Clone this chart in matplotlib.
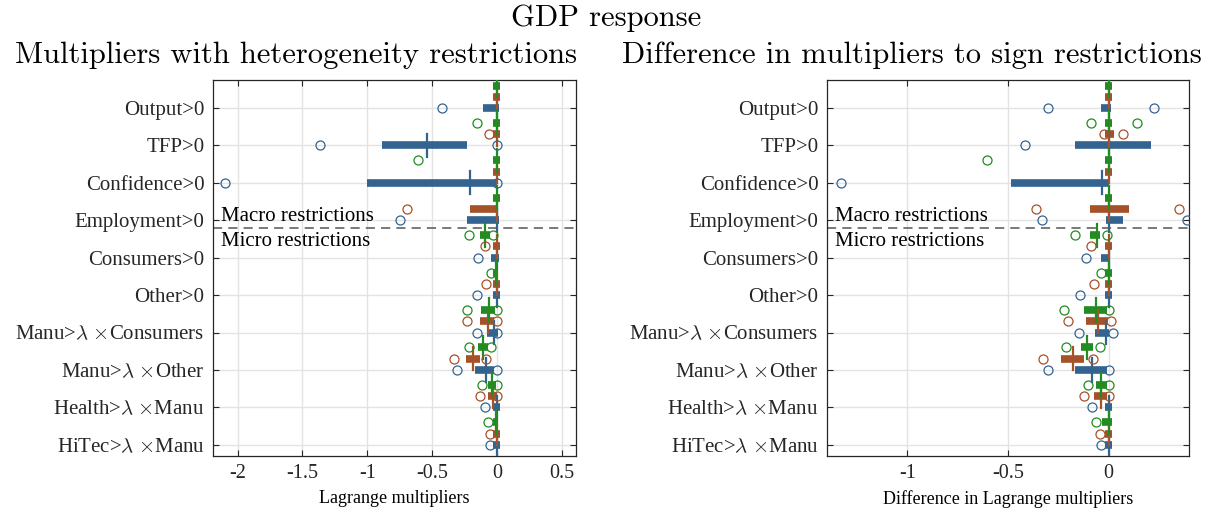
import matplotlib
matplotlib.use('Agg')
import matplotlib.pyplot as plt

plt.rcParams['mathtext.fontset'] = 'cm'

categories = ['Output>0', 'TFP>0', 'Confidence>0', 'Employment>0',
              'Consumers>0', 'Other>0',
              r'Manu>$\lambda$ $\times$Consumers', r'Manu>$\lambda$ $\times$Other',
              r'Health>$\lambda$ $\times$Manu', r'HiTec>$\lambda$ $\times$Manu']

# left panel: Lagrange multipliers (box = q1..q3, median, outliers)
L_green_q1 = [-0.028, -0.028, -0.028, -0.028, -0.131, -0.028, -0.126, -0.144, -0.067, -0.033]
L_green_med = [0, 0, 0, 0, -0.09, -0.005, -0.06, -0.11, -0.04, -0.01]
L_green_q3 = [0.028, 0.028, 0.028, 0.028, -0.054, 0.012, -0.015, -0.072, -0.008, 0.012]
L_green_out = [[], [-0.157], [-0.608], [], [-0.214, -0.029], [-0.046],
               [-0.23, 0], [-0.214, -0.046], [-0.116, 0], [-0.072]]

L_orange_q1 = [-0.028, -0.028, -0.028, -0.209, -0.028, -0.028, -0.131, -0.24, -0.067, -0.028]
L_orange_med = [0, 0, 0, 0, 0, 0, -0.067, -0.183, -0.033, 0]
L_orange_q3 = [0.028, 0.028, 0.028, 0.0, 0.028, 0.028, -0.023, -0.131, 0.0, 0.028]
L_orange_out = [[], [-0.06], [], [-0.693], [-0.093], [-0.08],
                [-0.23, 0], [-0.33, -0.085], [-0.131, 0], [-0.054]]

L_blue_q1 = [-0.106, -0.883, -1.002, -0.227, -0.046, -0.028, -0.075, -0.17, -0.028, -0.028]
L_blue_med = [0, -0.539, -0.204, 0, 0, 0, -0.02, -0.085, 0, 0]
L_blue_q3 = [0.015, -0.234, 0.0, 0.015, 0.015, 0.028, 0.01, -0.023, 0.028, 0.028]
L_blue_out = [[-0.42], [-1.368, 0], [-2.094, 0], [-0.744], [-0.144], [-0.152],
              [-0.157, 0], [-0.307, 0], [-0.09], [-0.054]]

# right panel: difference to sign restrictions
R_green_q1 = [-0.018, -0.018, -0.018, -0.018, -0.093, -0.018, -0.123, -0.139, -0.06, -0.03]
R_green_med = [0, 0, 0, 0, -0.056, 0, -0.06, -0.106, -0.035, 0]
R_green_q3 = [0.018, 0.018, 0.018, 0.018, -0.04, 0.018, -0.007, -0.076, -0.01, 0.015]
R_green_out = [[], [-0.085, 0.143], [-0.604], [], [-0.168, -0.01], [-0.035],
               [-0.222, 0], [-0.209, -0.043], [-0.103, 0], [-0.061]]

R_orange_q1 = [-0.018, -0.018, -0.018, -0.093, -0.018, -0.018, -0.114, -0.234, -0.07, -0.018]
R_orange_med = [0, 0, 0, 0, 0, 0, -0.053, -0.176, -0.035, 0]
R_orange_q3 = [0.018, 0.025, 0.018, 0.1, 0.018, 0.018, -0.003, -0.123, -0.007, 0.018]
R_orange_out = [[], [-0.022, 0.07], [], [-0.36, 0.348], [-0.086], [-0.073],
                [-0.2, 0.013], [-0.325, -0.076], [-0.124, 0], [-0.043]]

R_blue_q1 = [-0.035, -0.167, -0.483, -0.015, -0.035, -0.018, -0.065, -0.168, -0.018, -0.018]
R_blue_med = [0, 0, -0.03, 0, 0, 0, -0.012, -0.081, 0, 0]
R_blue_q3 = [0.012, 0.209, 0.0, 0.07, 0.005, 0.018, 0.0, -0.01, 0.018, 0.018]
R_blue_out = [[-0.299, 0.225], [-0.416], [-1.33], [-0.333, 0.39], [-0.114], [-0.144],
              [-0.146, 0.023], [-0.299, 0], [-0.081], [-0.035]]

BLUE = '#33648f'
ORANGE = '#a5512a'
GREEN = '#228b22'

TICK_FONT = 'Liberation Serif'
TITLE_FONT = 'cmr10'


def draw_boxes(ax, q1, med, q3, outliers, offset, color):
    """Compact horizontal box plots: thick IQR bar, median tick, open outliers."""
    for i in range(len(q1)):
        y = i + 1 + offset
        ax.plot([q1[i], q3[i]], [y, y], color=color, linewidth=5.5,
                solid_capstyle='butt', zorder=3)
        ax.plot([med[i], med[i]], [y - 0.31, y + 0.31], color=color,
                linewidth=1.6, zorder=4)
        if outliers[i]:
            ax.plot(outliers[i], [y] * len(outliers[i]), linestyle='none',
                    marker='o', markersize=6.5, markerfacecolor='none',
                    markeredgecolor=color, markeredgewidth=0.9, zorder=5)


def style_axis(ax, xlim, xticks, xticklabels, xlabel):
    ax.set_xlim(*xlim)
    ax.set_ylim(10.3, 0.25)
    ax.set_xticks(xticks)
    ax.set_xticklabels(xticklabels, fontfamily=TICK_FONT, fontsize=14.5)
    ax.set_yticks(range(1, 11))
    ax.set_yticklabels(categories, fontfamily=TICK_FONT, fontsize=15)
    ax.set_xlabel(xlabel, fontfamily=TICK_FONT, fontsize=13, labelpad=5)
    ax.tick_params(direction='in', top=True, right=True, length=4,
                   width=0.8, colors='#262626', pad=6)
    ax.grid(True, color='#e3e3e3', linewidth=1.0, zorder=0)
    ax.set_axisbelow(True)
    for sp in ax.spines.values():
        sp.set_color('#262626')
        sp.set_linewidth(0.9)
    # macro / micro split
    ax.axhline(4.2, color='#555555', linewidth=1.1, dashes=(6, 4), zorder=2)
    ax.text(0.022, 4.14, 'Macro restrictions', transform=ax.get_yaxis_transform(),
            fontfamily=TICK_FONT, fontsize=15, va='bottom', ha='left', zorder=6)
    ax.text(0.022, 4.32, 'Micro restrictions', transform=ax.get_yaxis_transform(),
            fontfamily=TICK_FONT, fontsize=15, va='top', ha='left', zorder=6)


fig = plt.figure(figsize=(12.12, 5.13), dpi=100)
ax1 = fig.add_axes([0.1757, 0.1111, 0.2995, 0.733])
ax2 = fig.add_axes([0.6823, 0.1111, 0.2987, 0.733])

draw_boxes(ax1, L_blue_q1, L_blue_med, L_blue_q3, L_blue_out, 0.0, BLUE)
draw_boxes(ax1, L_orange_q1, L_orange_med, L_orange_q3, L_orange_out, -0.3, ORANGE)
draw_boxes(ax1, L_green_q1, L_green_med, L_green_q3, L_green_out, -0.6, GREEN)

draw_boxes(ax2, R_blue_q1, R_blue_med, R_blue_q3, R_blue_out, 0.0, BLUE)
draw_boxes(ax2, R_orange_q1, R_orange_med, R_orange_q3, R_orange_out, -0.3, ORANGE)
draw_boxes(ax2, R_green_q1, R_green_med, R_green_q3, R_green_out, -0.6, GREEN)

style_axis(ax1, (-2.19, 0.61), [-2, -1.5, -1, -0.5, 0, 0.5],
           ['-2', '-1.5', '-1', '-0.5', '0', '0.5'], 'Lagrange multipliers')
style_axis(ax2, (-1.4, 0.4), [-1, -0.5, 0], ['-1', '-0.5', '0'],
           'Difference in Lagrange multipliers')

fig.text(606 / 1212, 1 - 18 / 513, 'GDP response', fontfamily=TITLE_FONT,
         fontsize=22, ha='center', va='center')
fig.text(296 / 1212, 1 - 55 / 513, 'Multipliers with heterogeneity restrictions',
         fontfamily=TITLE_FONT, fontsize=22, ha='center', va='center')
fig.text(912 / 1212, 1 - 55 / 513, 'Difference in multipliers to sign restrictions',
         fontfamily=TITLE_FONT, fontsize=22, ha='center', va='center')

fig.savefig('out.png', dpi=100)
